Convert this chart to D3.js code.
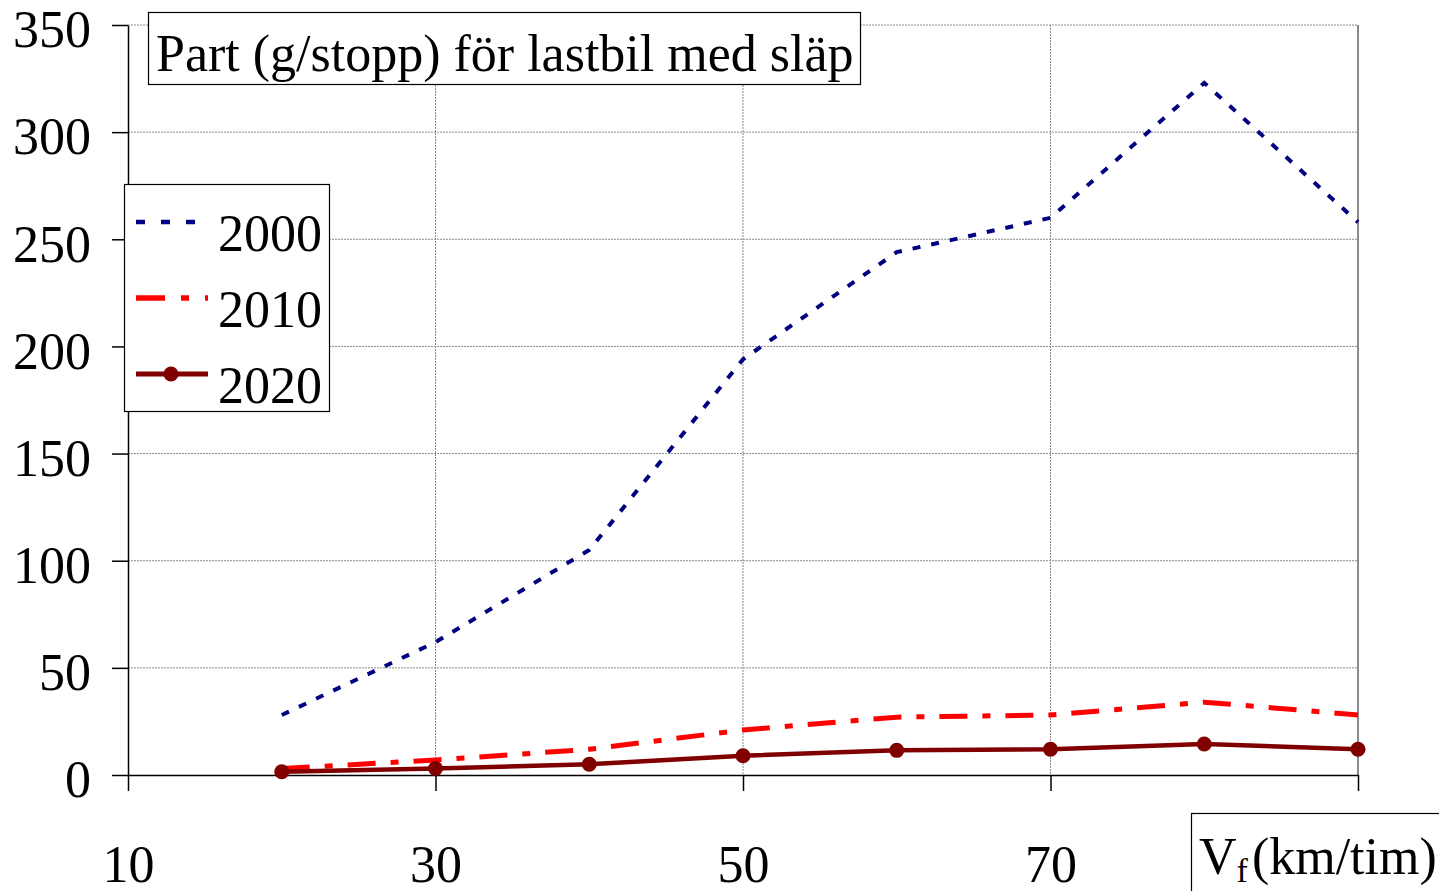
<!DOCTYPE html>
<html>
<head>
<meta charset="utf-8">
<script src="https://cdn.jsdelivr.net/npm/d3@7"></script>
<style>
  body { margin: 0; background: #fff; }
  svg text { font-family: "Liberation Serif", "Times New Roman", serif; fill: #000; }
</style>
</head>
<body>
<div id="chart"></div>
<script>
// data
var speeds = [20, 30, 40, 50, 60, 70, 80, 90];
var v2000 = [28, 62, 105, 194, 244, 260, 323, 258];
var v2010 = [3, 7, 12, 21, 27, 28, 34, 28];
var v2020 = [1.5, 3, 5, 9, 11.5, 12, 14.5, 12];
var xTicks = [10, 30, 50, 70, 90];
var xLabels = ["10", "30", "50", "70", ""];
var yTicks = [0, 50, 100, 150, 200, 250, 300, 350];

var W = 1439, H = 891;
var plotL = 128, plotR = 1358, plotT = 25, plotB = 775;
var fs = "52px";

var svg = d3.select("#chart").append("svg")
    .attr("width", W).attr("height", H);

var x = d3.scaleLinear().domain([10, 90]).range([plotL, plotR]);
var y = d3.scaleLinear().domain([0, 350]).range([plotB, plotT]);

// gridlines
svg.append("g").selectAll("line").data(yTicks.slice(1)).enter().append("line")
    .attr("x1", plotL).attr("x2", plotR)
    .attr("y1", function(d){ return y(d); }).attr("y2", function(d){ return y(d); })
    .attr("stroke", "#8a8a8a").attr("stroke-width", 1).attr("stroke-dasharray", "2,1");
svg.append("g").selectAll("line").data(xTicks.slice(1, 4)).enter().append("line")
    .attr("y1", plotT).attr("y2", plotB)
    .attr("x1", function(d){ return x(d); }).attr("x2", function(d){ return x(d); })
    .attr("stroke", "#8a8a8a").attr("stroke-width", 1).attr("stroke-dasharray", "2,1");
// right border
svg.append("line").attr("x1", plotR).attr("x2", plotR).attr("y1", plotT).attr("y2", plotB)
    .attr("stroke", "#8a8a8a").attr("stroke-width", 2);

// axes
var yAxis = d3.axisLeft(y).tickValues(yTicks).tickSize(16).tickSizeOuter(0).tickPadding(21);
var gy = svg.append("g").attr("transform", "translate(" + plotL + ",0)").call(yAxis);
gy.selectAll("text").style("font-size", fs).attr("dy", "0.42em");
gy.selectAll("line, path").attr("stroke", "#000").attr("stroke-width", 1.5);

var xAxis = d3.axisBottom(x).tickValues(xTicks).tickSize(16).tickSizeOuter(0)
    .tickFormat(function(d, i){ return xLabels[i]; }).tickPadding(54);
var gx = svg.append("g").attr("transform", "translate(0," + plotB + ")").call(xAxis);
gx.selectAll("text").style("font-size", fs).attr("dy", "0.72em");
gx.selectAll("line, path").attr("stroke", "#000").attr("stroke-width", 1.5);

// series
var series = [
  { name: "2000", values: v2000, color: "#000080", width: 4, dash: "8,11", dot: false },
  { name: "2010", values: v2010, color: "#ff0000", width: 5, dash: "28,15,8,15", dot: false },
  { name: "2020", values: v2020, color: "#800000", width: 4.5, dash: null, dot: true }
];

var line = d3.line()
    .x(function(d){ return x(d[0]); })
    .y(function(d){ return y(d[1]); });

series.forEach(function(s){
  var pts = speeds.map(function(v, i){ return [v, s.values[i]]; });
  svg.append("path").datum(pts)
      .attr("d", line)
      .attr("fill", "none")
      .attr("stroke", s.color)
      .attr("stroke-width", s.width)
      .attr("stroke-dasharray", s.dash);
  if (s.dot) {
    svg.append("g").selectAll("circle").data(pts).enter().append("circle")
        .attr("cx", function(d){ return x(d[0]); })
        .attr("cy", function(d){ return y(d[1]); })
        .attr("r", 7.5)
        .attr("fill", s.color);
  }
});

// title box
svg.append("rect").attr("x", 148.5).attr("y", 12.5).attr("width", 712).attr("height", 72)
    .attr("fill", "#fff").attr("stroke", "#000").attr("stroke-width", 1.2);
svg.append("text").attr("x", 156).attr("y", 71)
    .style("font-size", fs)
    .text("Part (g/stopp) för lastbil med släp");

// legend
var lg = svg.append("g");
lg.append("rect").attr("x", 124.5).attr("y", 184.5).attr("width", 205).attr("height", 227)
    .attr("fill", "#fff").attr("stroke", "#000").attr("stroke-width", 1.2);
series.forEach(function(s, i){
  var ly = 222 + i * 76;
  lg.append("line").attr("x1", 136).attr("x2", 208).attr("y1", ly).attr("y2", ly)
      .attr("stroke", s.color).attr("stroke-width", s.width + 0.5)
      .attr("stroke-dasharray", i === 0 ? "9,16" : (i === 1 ? "29,16,8,16" : null));
  if (s.dot) {
    lg.append("circle").attr("cx", 171).attr("cy", ly).attr("r", 7.5).attr("fill", s.color);
  }
  lg.append("text").attr("x", 218).attr("y", ly + 29)
      .style("font-size", fs).text(s.name);
});

// x axis title box
svg.append("rect").attr("x", 1191.5).attr("y", 813.5).attr("width", 260).attr("height", 90)
    .attr("fill", "#fff").attr("stroke", "#000").attr("stroke-width", 1.2);
var xt = svg.append("text").attr("x", 1199).attr("y", 874).style("font-size", fs);
xt.append("tspan").text("V");
xt.append("tspan").attr("dy", 8).style("font-size", "34px").text("f");
xt.append("tspan").attr("dy", -8).attr("dx", 4).text("(km/tim)");
</script>
</body>
</html>
